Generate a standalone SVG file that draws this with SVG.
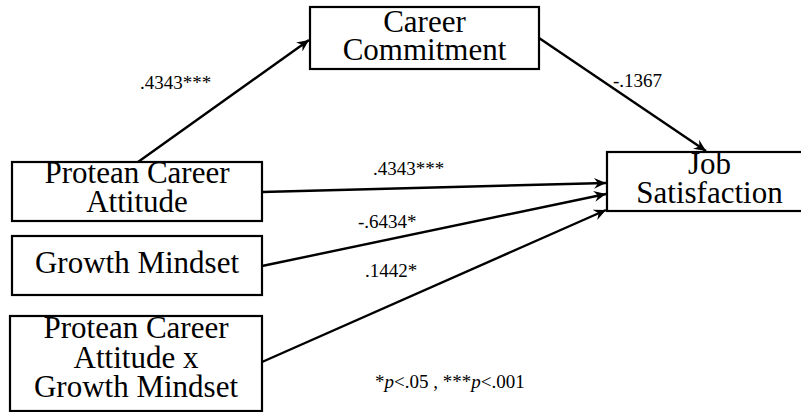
<svg xmlns="http://www.w3.org/2000/svg" width="801" height="412" viewBox="0 0 801 412">
<style>
.box{fill:#fff;stroke:#000;stroke-width:2.2}
.t{font-family:"Liberation Serif","Times New Roman",serif;font-size:31px;fill:#000;text-anchor:middle}
.l{font-family:"Liberation Serif","Times New Roman",serif;font-size:19px;fill:#000}
.c{stroke:#000;stroke-width:2.4;fill:none;marker-end:url(#ah)}
</style>
<defs>
<marker id="ah" markerUnits="userSpaceOnUse" markerWidth="14" markerHeight="12" refX="12" refY="6" orient="auto">
<path d="M0,0.5 L12,6 L0,11.5 L4,6 z" fill="#000"/>
</marker>
</defs>
<rect width="801" height="412" fill="#fff"/>
<g id="connectors">
<line class="c" x1="138" y1="162" x2="309" y2="40"/>
<line class="c" x1="539" y1="38" x2="706" y2="151"/>
<line class="c" x1="262" y1="192" x2="606" y2="183"/>
<line class="c" x1="262" y1="266" x2="606" y2="194"/>
<line class="c" x1="262" y1="362" x2="606" y2="210"/>
</g>
<g id="career-commitment">
<rect class="box" x="310" y="7" width="229" height="62"/>
<text class="t" x="424.5" y="32">Career</text>
<text class="t" x="424.5" y="60">Commitment</text>
</g>
<g id="job-satisfaction">
<rect class="box" x="607" y="152" width="206" height="59"/>
<text class="t" x="709.5" y="174">Job</text>
<text class="t" x="709.5" y="203">Satisfaction</text>
</g>
<g id="protean-career-attitude">
<rect class="box" x="12" y="162" width="250" height="59"/>
<text class="t" x="137" y="183">Protean Career</text>
<text class="t" x="137" y="212">Attitude</text>
</g>
<g id="growth-mindset">
<rect class="box" x="12" y="236" width="250" height="59"/>
<text class="t" x="137" y="273">Growth Mindset</text>
</g>
<g id="interaction">
<rect class="box" x="10" y="316" width="252" height="95"/>
<text class="t" x="136" y="338">Protean Career</text>
<text class="t" x="136" y="368">Attitude x</text>
<text class="t" x="136" y="397">Growth Mindset</text>
</g>
<g id="labels">
<text class="l" x="140" y="89">.4343***</text>
<text class="l" x="613" y="87">-.1367</text>
<text class="l" x="373" y="175">.4343***</text>
<text class="l" x="358" y="228">-.6434*</text>
<text class="l" x="365" y="277">.1442*</text>
<text class="l" x="375" y="388">*<tspan font-style="italic">p</tspan>&lt;.05 , ***<tspan font-style="italic">p</tspan>&lt;.001</text>
</g>
</svg>
